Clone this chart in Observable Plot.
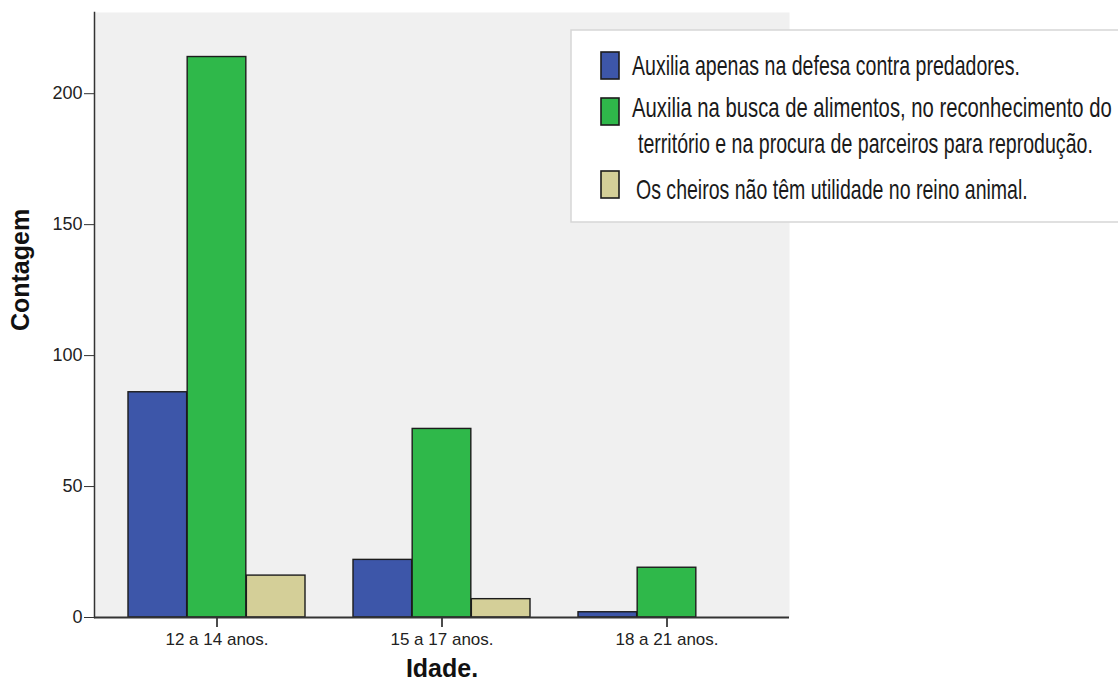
<!DOCTYPE html>
<html><head><meta charset="utf-8">
<script src="https://cdn.jsdelivr.net/npm/d3@7"></script>
<script src="https://cdn.jsdelivr.net/npm/@observablehq/plot@0.6"></script>
<style>
html,body{margin:0;padding:0;background:#fff;overflow:hidden}
#wrap{position:relative;width:1118px;height:688px}
#wrap svg{display:block}
#legend{position:absolute;left:0;top:0;pointer-events:none}
</style></head><body><div id="wrap"></div>
<script>
// ---- data ----
const ages = ["12 a 14 anos.", "15 a 17 anos.", "18 a 21 anos."];
const seriesNames = [
  "Auxilia apenas na defesa contra predadores.",
  "Auxilia na busca de alimentos, no reconhecimento do território e na procura de parceiros para reprodução.",
  "Os cheiros não têm utilidade no reino animal."
];
const defesa = [86, 22, 2];
const busca = [214, 72, 19];
const semUtilidade = [16, 7, 0];
const yTicks = [0, 50, 100, 150, 200];
const legendLines = [
  ["Auxilia apenas na defesa contra predadores."],
  ["Auxilia na busca de alimentos, no reconhecimento do", "território e na procura de parceiros para reprodução."],
  ["Os cheiros não têm utilidade no reino animal."]
];

// ---- layout / style ----
const colors = ["#3d56a9", "#2fb84a", "#d4cf98"];
const W = 1118, H = 688;
const margin = {left: 94, right: 329, top: 12, bottom: 71};
const yMax = 231;
const pInner = 0.213, pOuter = 0.147;
const plotW = W - margin.left - margin.right;
const plotH = H - margin.top - margin.bottom;
const step = plotW / (ages.length - pInner + 2 * pOuter);
const bw = step * (1 - pInner);
const sub = bw / seriesNames.length;
const tickLenUnits = 10 / (plotH / yMax);
const font = "'Liberation Sans', Arial, sans-serif";

const seriesValues = [defesa, busca, semUtilidade];
const barMarks = seriesValues.map((vals, s) =>
  Plot.barY(ages.map((a, i) => ({age: a, value: vals[i], series: seriesNames[s]})), {
    x: "age", y: "value",
    fill: colors[s], stroke: "#1c1c1c", strokeWidth: 1.4,
    insetLeft: s * sub, insetRight: (seriesNames.length - 1 - s) * sub
  })
);

const chart = Plot.plot({
  width: W, height: H,
  marginLeft: margin.left, marginRight: margin.right,
  marginTop: margin.top, marginBottom: margin.bottom,
  style: {fontFamily: font, color: "#222", background: "#fff"},
  x: {domain: ages, paddingInner: pInner, paddingOuter: pOuter, label: null},
  y: {domain: [0, yMax], label: null},
  marks: [
    Plot.frame({fill: "#f0f0f0", stroke: null}),
    ...barMarks,
    Plot.frame({anchor: "left", stroke: "#333", strokeWidth: 1.5}),
    Plot.ruleY([0], {stroke: "#333", strokeWidth: 2}),
    Plot.ruleX(ages, {x: d => d, y1: 0, y2: -tickLenUnits, stroke: "#333", strokeWidth: 1.5, clip: false}),
    Plot.axisY({ticks: yTicks, tickSize: 10, tickPadding: 2, fontSize: 18, label: null, stroke: "#333"}),
    Plot.axisX({tickSize: 10, tickPadding: 5, fontSize: 17, label: null, stroke: "#333"}),
    Plot.text(["Contagem"], {frameAnchor: "left", textAnchor: "middle", dx: -74, dy: -45, rotate: -90, fontWeight: "bold", fontSize: 25, fill: "#111"}),
    Plot.text(["Idade."], {frameAnchor: "bottom", lineAnchor: "middle", dy: 51, fontWeight: "bold", fontSize: 25, fill: "#111"})
  ]
});
document.getElementById("wrap").appendChild(chart);

// ---- legend overlay ----
const leg = d3.select("#wrap").append("svg").attr("id", "legend")
  .attr("width", W).attr("height", H).style("font-family", font);
leg.append("rect").attr("x", 571).attr("y", 30).attr("width", W - 571 + 2).attr("height", 192)
  .attr("fill", "#fff").attr("stroke", "#d6d6d6").attr("stroke-width", 1.5);
const swY = [52, 98, 171];
const txt = [
  [{x: 632, y: 75, len: 388}],
  [{x: 632, y: 117, len: 480}, {x: 638, y: 153, len: 455}],
  [{x: 636, y: 199, len: 392}]
];
const baseSize = 20, targetSize = 27;
legendLines.forEach((lines, s) => {
  leg.append("rect").attr("x", 601).attr("y", swY[s]).attr("width", 18).attr("height", 27)
    .attr("fill", colors[s]).attr("stroke", "#1c1c1c").attr("stroke-width", 1.6);
  lines.forEach((t, j) => {
    const p = txt[s][j];
    const el = leg.append("text").attr("x", 0).attr("y", 0).attr("font-size", baseSize)
      .attr("fill", "#1a1a1a").text(t);
    const natural = el.node().getComputedTextLength() || p.len;
    el.attr("transform", `translate(${p.x},${p.y}) scale(${p.len / natural},${targetSize / baseSize})`);
  });
});
</script></body></html>
